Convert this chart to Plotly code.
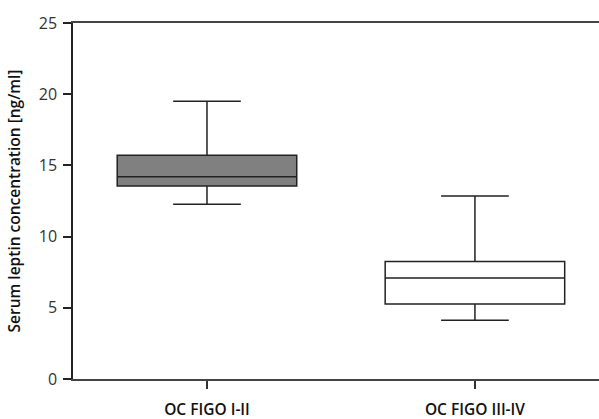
import plotly.graph_objects as go

categories = ["OC FIGO I-II", "OC FIGO III-IV"]
q1 = [13.55, 5.27]
median = [14.2, 7.1]
q3 = [15.72, 8.26]
lower = [12.28, 4.12]
upper = [19.5, 12.85]
fills = ["#808080", "#ffffff"]

y_ticks = [0, 5, 10, 15, 20, 25]

fig = go.Figure()
for i, cat in enumerate(categories):
    fig.add_trace(go.Box(
        x=[i], q1=[q1[i]], median=[median[i]], q3=[q3[i]],
        lowerfence=[lower[i]], upperfence=[upper[i]],
        fillcolor=fills[i], line=dict(color="#222222", width=1.5),
        width=0.67, whiskerwidth=0.377, boxpoints=False,
        showlegend=False, hoverinfo="skip",
    ))

font_family = "Open Sans, Noto Sans, DejaVu Sans, sans-serif"

fig.update_layout(
    width=599, height=419,
    margin=dict(l=73, r=0, t=23, b=40),
    paper_bgcolor="white", plot_bgcolor="white",
    font=dict(family=font_family, color="#222222"),
    xaxis=dict(
        range=[-0.5, 1.463],
        tickmode="array", tickvals=[0, 1], ticktext=categories,
        ticks="outside", ticklen=8, tickwidth=1.5, tickcolor="#333333",
        showline=True, linecolor="#444444", linewidth=1.5, mirror=True,
        showgrid=False, zeroline=False, automargin=False,
        tickfont=dict(size=15.5, family=font_family, weight=600, color="#111111"),
        ticklabelstandoff=8,
    ),
    yaxis=dict(
        range=[0, 25],
        tickmode="array", tickvals=y_ticks,
        ticks="outside", ticklen=8, tickwidth=1.5, tickcolor="#222222",
        showline=True, linecolor="#222222", linewidth=1.5,
        showgrid=False, zeroline=False, automargin=False,
        tickfont=dict(size=16, family=font_family, color="#333333"),
        ticklabelstandoff=3,
        title=dict(text="Serum leptin concentration [ng/ml]",
                   font=dict(size=15.5, family=font_family, weight=600, color="#111111"),
                   standoff=14),
    ),
)

fig.write_html("out.html", config={"displayModeBar": False},
               post_script="document.body.style.margin='0';document.body.style.overflow='hidden';")
